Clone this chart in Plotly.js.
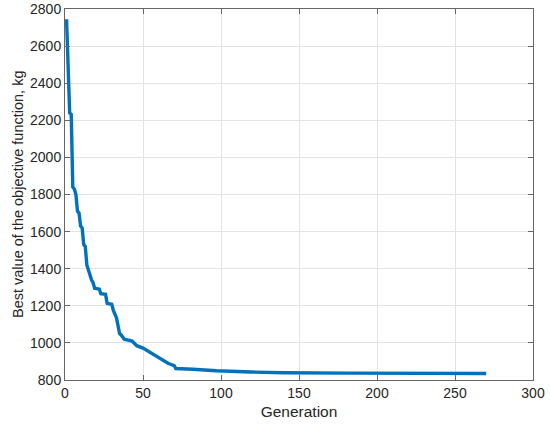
<!DOCTYPE html>
<html>
<head>
<meta charset="utf-8">
<script src="https://cdn.plot.ly/plotly-3.0.1.min.js"></script>
<style>html,body{margin:0;padding:0;background:#fff}#plot{width:550px;height:427px}</style>
</head>
<body>
<div id="plot"></div>
<script>
const generation = [1, 3, 4, 5, 6, 7, 8, 9, 10, 11, 12, 13, 14, 15, 16, 17, 18, 19, 22, 23, 26, 27, 30, 31, 33, 35, 36, 38, 43, 46, 50, 54, 59, 62, 66, 70, 71, 82, 97, 119, 140, 183, 270];
const bestValue = [2745, 2240, 2232, 1840, 1830, 1800, 1710, 1700, 1630, 1620, 1530, 1520, 1420, 1395, 1360, 1340, 1325, 1295, 1290, 1265, 1262, 1213, 1208, 1175, 1135, 1050, 1043, 1020, 1010, 985, 972, 952, 926, 912, 890, 878, 862, 858, 850, 843, 839, 837, 835];
const xTicks = [0, 50, 100, 150, 200, 250, 300];
const yTicks = [800, 1000, 1200, 1400, 1600, 1800, 2000, 2200, 2400, 2600, 2800];
const yTitle = 'Best value of the objective function, kg';

const font = {family: 'Liberation Sans, Arial, sans-serif', size: 14, color: '#262626'};
const axisCommon = {
  showgrid: true, gridcolor: '#e3e3e3', gridwidth: 1,
  zeroline: false, showline: true, linecolor: '#666666', linewidth: 1,
  mirror: 'ticks', ticks: 'inside', ticklen: 5, tickcolor: '#666666',
  tickfont: font
};
Plotly.newPlot('plot', [{
  x: generation, y: bestValue, type: 'scatter', mode: 'lines',
  line: {color: '#0072BD', width: 3.4}
}], {
  width: 550, height: 427,
  margin: {l: 65, r: 17, t: 9, b: 47},
  paper_bgcolor: '#fff', plot_bgcolor: '#fff',
  showlegend: false,
  font: font,
  xaxis: Object.assign({}, axisCommon, {
    range: [0, 300], tickvals: xTicks,
    title: {text: 'Generation', font: {family: font.family, size: 15.5, color: '#262626'}, standoff: 6}
  }),
  yaxis: Object.assign({}, axisCommon, {
    range: [800, 2800], tickvals: yTicks
  }),
  annotations: [{
    text: yTitle, textangle: -90, showarrow: false,
    xref: 'paper', yref: 'paper', x: -0.1015, y: 0.5,
    xanchor: 'center', yanchor: 'middle',
    font: {family: font.family, size: 14.5, color: '#262626'}
  }]
}, {staticPlot: true});
</script>
</body>
</html>
